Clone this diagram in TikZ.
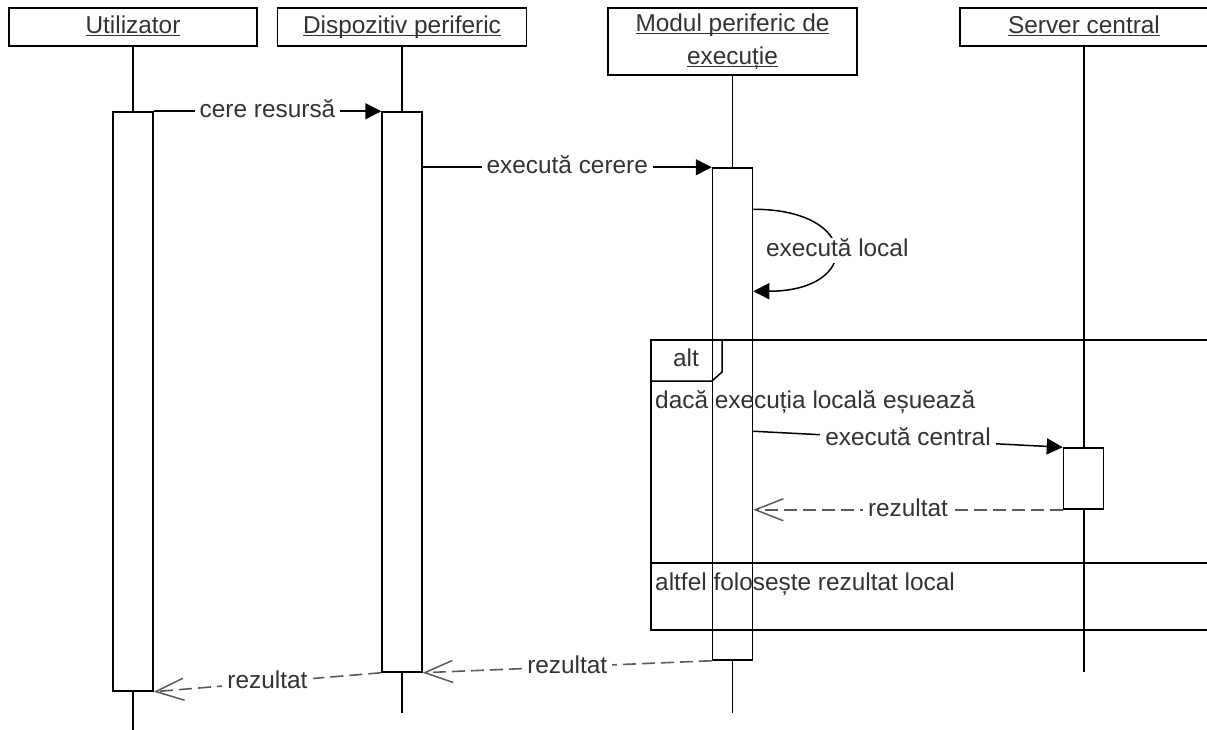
\documentclass[tikz,border=0pt]{standalone}
\usepackage{fontspec}
\setmainfont{Liberation Sans}
\usetikzlibrary{arrows.meta}
\definecolor{ink}{HTML}{333333}
\definecolor{retline}{HTML}{5A5A5A}
% underlined header text, rule a little below the baseline
\newsavebox\ulbox
\newcommand{\hdrul}[1]{\sbox\ulbox{#1}\rlap{\rule[-3pt]{\wd\ulbox}{1.2pt}}\usebox\ulbox}
\begin{document}
\begin{tikzpicture}[x=1pt,y=-1pt,
  font=\fontsize{24.4}{33}\selectfont,
  hdr/.style={draw, line width=1.5pt, fill=white, inner sep=0pt, text=ink},
  oneline/.style={text height=18pt, text depth=5pt},
  act/.style={draw, line width=1.5pt, fill=white, inner sep=0pt, minimum width=40pt},
  life/.style={line width=1.5pt},
  call/.style={line width=1.5pt, -{Triangle[length=16pt,width=16pt]}},
  reply/.style={line width=1.6pt, draw=retline, dash pattern=on 13pt off 6pt,
    -{Straight Barb[length=28pt,width=22pt,line width=1.5pt]}},
  lbl/.style={fill=white, inner xsep=5pt, inner ysep=1pt, text=ink, text height=18pt, text depth=5pt},
  cond/.style={anchor=base west, inner sep=0pt, text=ink},
  frame/.style={line width=1.5pt}]
\clip (0,0) rectangle (1207,730);
\fill[white] (0,0) rectangle (1207,730);

% lifeline heads
\node[hdr, oneline, minimum width=248pt, minimum height=38pt] (u) at (133,27) {\hdrul{Utilizator}};
\node[hdr, oneline, minimum width=249pt, minimum height=38pt] (d) at (402,27) {\hdrul{Dispozitiv periferic}};
\node[hdr, minimum width=249pt, minimum height=67pt, align=center] (m) at (732.5,41.5) {\hdrul{Modul periferic de}\\\hdrul{execuție}};
\node[hdr, oneline, minimum width=248pt, minimum height=38pt] (s) at (1084,27) {\hdrul{Server central}};

% lifelines
\coordinate (uend) at (133,735);
\coordinate (dend) at (402,713);
\coordinate (mend) at (732.5,713);
\coordinate (send) at (1084,672);
\draw[life] (u.south) -- (uend);
\draw[life] (d.south) -- (dend);
\draw[life] (m.south) -- (mend);
\draw[life] (s.south) -- (send);

% activation bars
\node[act, minimum height=579pt] (a1) at (133,401.5) {};
\node[act, minimum height=560pt] (a2) at (402,392) {};
\node[act, minimum height=492pt] (a3) at (732.5,414) {};
\node[act, minimum height=61pt] (a4) at (1083.5,478.5) {};

% alt fragment
\draw[frame] (651,340) rectangle (1230,630);
\draw[frame] (651,563) -- (1230,563);
\draw[frame] (651,381) -- (712,381) -- (722,372) -- (722,340);
\node[text=ink, oneline, inner sep=0pt] (altlbl) at (686,360) {alt};
\node[cond] (c1) at (655,408) {dacă execuția locală eșuează};
\node[cond] (c2) at (655,590) {altfel folosește rezultat local};

% messages
\draw[call] (a1.north east) -- node[lbl] {cere resursă} (a2.north west);
\draw[call] (a3.north west -| a2.east) -- node[lbl] {execută cerere} (a3.north west);
\draw[call] ([yshift=-42pt]a3.north east) .. controls +(108,0) and +(108,0) ..
  node[lbl, pos=0.5, xshift=3pt] {execută local} ([yshift=-124pt]a3.north east);
\draw[call] ([yshift=-264pt]a3.north east) -- node[lbl] {execută central} (a4.north west);
\draw[reply] (a4.south west) -- node[lbl] {rezultat} (a4.south west -| a3.east);
\draw[reply] (a3.south west) -- node[lbl] {rezultat} (a2.south east);
\draw[reply] (a2.south west) -- node[lbl] {rezultat} (a1.south east);
\end{tikzpicture}
\end{document}
